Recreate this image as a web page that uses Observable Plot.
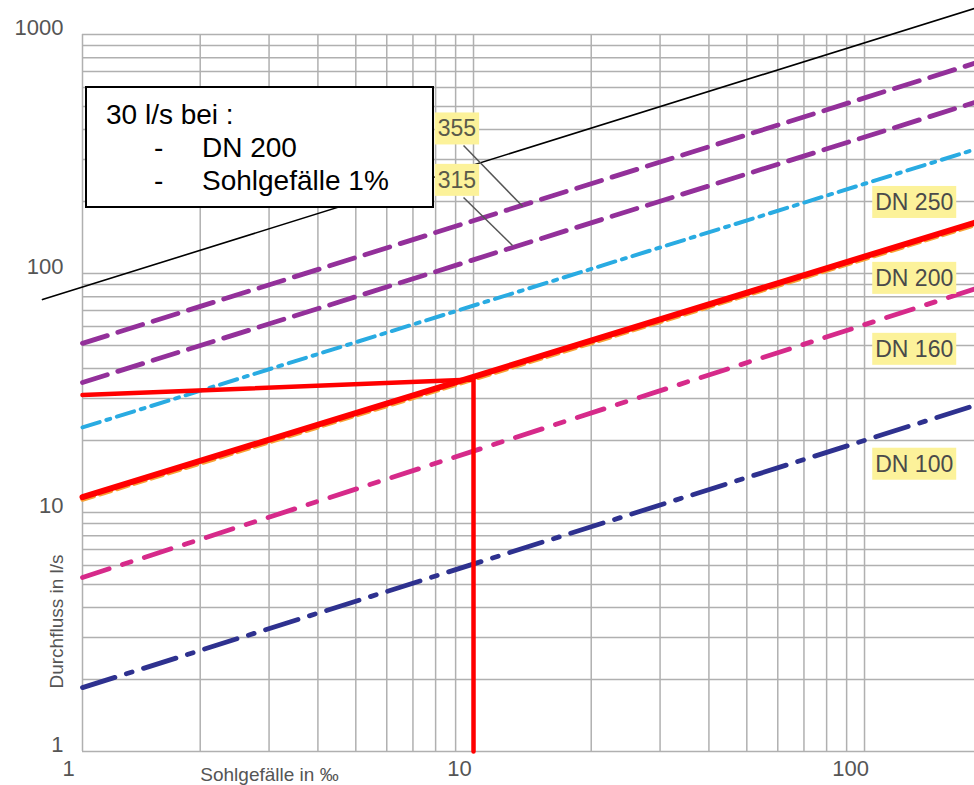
<!DOCTYPE html>
<html>
<head>
<meta charset="utf-8">
<script src="https://cdn.jsdelivr.net/npm/d3@7"></script>
<script src="https://cdn.jsdelivr.net/npm/@observablehq/plot@0.6"></script>
<style>
  html, body { margin: 0; padding: 0; background: #fff; }
  #chart { position: relative; width: 974px; height: 785px; }
</style>
</head>
<body>
<div id="chart"></div>
<script>
// ---- data ----
const xEnds = [1, 191];                 // Sohlgefälle in ‰ at the line ends
const dn355 = [51, 757];                // Durchfluss l/s
const dn315 = [35, 519];
const dn250 = [22.7, 330];
const dn200 = [11.6, 163];
const dn200base = [11.3, 159];
const dn160 = [5.35, 86];
const dn100 = [1.85, 28];
const refX = [0.79, 191];               // thin black reference line
const refY = [77.8, 1285];
const guideX = [1, 10, 10];             // red reading guide
const guideY = [31, 36, 1];

const xTicks = [1, 10, 100];
const yTicks = [1, 10, 100, 1000];
const xGrid = [1,2,3,4,5,6,7,8,9,10,20,30,40,50,60,70,80,90,100];
const yGrid = [1,2,3,4,5,6,7,8,9,10,20,30,40,50,60,70,80,90,100,200,300,400,500,600,700,800,900,1000];

const dnLabels = ["DN 250", "DN 200", "DN 160", "DN 100"];
const dnLabelX = [134, 134, 134, 134];
const dnLabelY = [198, 95.3, 48.1, 15.9];
const smallLabels = ["355", "315"];
const smallLabelX = [9.07, 9.07];
const smallLabelY = [402, 245];
const leaderX1 = [9.43, 9.43], leaderY1 = [343, 208];
const leaderX2 = [13.35, 12.58], leaderY2 = [191, 131];

// ---- build tables ----
const pts = (xs, ys) => xs.map((x, i) => ({x, y: ys[i]}));
const dnTable = dnLabels.map((t, i) => ({t, x: dnLabelX[i], y: dnLabelY[i]}));
const smallTable = smallLabels.map((t, i) => ({t, x: smallLabelX[i], y: smallLabelY[i]}));
const leaders = leaderX1.map((x, i) => ({x1: x, y1: leaderY1[i], x2: leaderX2[i], y2: leaderY2[i]}));

const font = "'Liberation Sans', Arial, Helvetica, sans-serif";
const gridStyle = {stroke: "#b0b0b0", strokeOpacity: 1, strokeWidth: 1.5};

const chart = Plot.plot({
  width: 974,
  height: 785,
  marginLeft: 82,
  marginRight: 0,
  marginTop: 34,
  marginBottom: 34,
  x: {type: "log", domain: [1, 191.1], axis: null},
  y: {type: "log", domain: [1, 1000], axis: null},
  style: {fontFamily: font, background: "white", overflow: "visible"},
  marks: [
    Plot.gridX(xGrid, gridStyle),
    Plot.gridY(yGrid, gridStyle),
    // tick labels
    Plot.text(yTicks, {y: d => d, frameAnchor: "left", dx: -19, dy: -7, textAnchor: "end",
      text: d => String(d), fontSize: 22, fill: "#555"}),
    Plot.text(xTicks, {x: d => d, frameAnchor: "bottom", dx: -14, dy: 24,
      text: d => String(d), fontSize: 22, fill: "#555"}),
    // axis titles
    Plot.text(["Sohlgefälle in ‰"], {frameAnchor: "bottom-left", dx: 187, dy: 23,
      textAnchor: "middle", lineAnchor: "middle", fontSize: 19, fill: "#555"}),
    Plot.text(["Durchfluss in l/s"], {frameAnchor: "bottom-left", dx: -26, dy: -130, rotate: -90,
      textAnchor: "middle", lineAnchor: "middle", fontSize: 19, fill: "#555"}),
    // reference line
    Plot.line(pts(refX, refY), {x: "x", y: "y", stroke: "#000", strokeWidth: 1.6}),
    // pipe lines
    Plot.line(pts(xEnds, dn355), {x: "x", y: "y", stroke: "#93309a", strokeWidth: 4.8, strokeDasharray: "26,11"}),
    Plot.line(pts(xEnds, dn315), {x: "x", y: "y", stroke: "#93309a", strokeWidth: 4.8, strokeDasharray: "26,11"}),
    Plot.line(pts(xEnds, dn250), {x: "x", y: "y", stroke: "#29abe2", strokeWidth: 4, strokeDasharray: "18,7,4,7"}),
    Plot.line(pts(xEnds, dn200base), {x: "x", y: "y", stroke: "#f7a336", strokeWidth: 4, strokeDasharray: "12,6"}),
    Plot.line(pts(xEnds, dn160), {x: "x", y: "y", stroke: "#d62a8a", strokeWidth: 4.8, strokeDasharray: "28,14,9,14"}),
    Plot.line(pts(xEnds, dn100), {x: "x", y: "y", stroke: "#2e318f", strokeWidth: 4.8, strokeDasharray: "34,12,6,12"}),
    Plot.line(pts(xEnds, dn200), {x: "x", y: "y", stroke: "#ff0000", strokeWidth: 6}),
    Plot.line(pts(guideX, guideY), {x: "x", y: "y", stroke: "#ff0000", strokeWidth: 4.5}),
    // leader lines
    Plot.link(leaders, {x1: "x1", y1: "y1", x2: "x2", y2: "y2", stroke: "#555", strokeWidth: 1.5}),
    // labels
    Plot.text(dnTable, {x: "x", y: "y", text: "t", fontSize: 23, fill: "#4a4a4a", lineAnchor: "middle"}),
    Plot.text(smallTable, {x: "x", y: "y", text: "t", fontSize: 23, fill: "#5a5a4a", lineAnchor: "middle"})
  ]
});

document.getElementById("chart").appendChild(chart);

// yellow backgrounds behind the pipe labels
const labelSet = new Set([...dnLabels, ...smallLabels]);
d3.select(chart).selectAll("text").each(function () {
  if (!labelSet.has(this.textContent)) return;
  const b = this.getBBox();
  const padX = 3;
  const padY = 3;
  const r = document.createElementNS("http://www.w3.org/2000/svg", "rect");
  r.setAttribute("x", b.x - padX);
  r.setAttribute("y", b.y - padY);
  r.setAttribute("width", b.width + 2 * padX);
  r.setAttribute("height", b.height + 2 * padY);
  r.setAttribute("fill", "#fcf29a");
  const tf = this.getAttribute("transform");
  if (tf) r.setAttribute("transform", tf);
  this.parentNode.insertBefore(r, this);
});

// annotation box
const ann = d3.select(chart).append("g")
  .attr("font-family", font).attr("fill", "#000")
  .attr("text-anchor", "start").attr("font-size", 28);
ann.append("rect").attr("x", 86).attr("y", 87).attr("width", 347).attr("height", 120)
  .attr("fill", "#fff").attr("stroke", "#000").attr("stroke-width", 2);
const annLines = [
  {x: 106, y: 124, t: "30 l/s bei :"},
  {x: 154, y: 157, t: "-"},
  {x: 202, y: 157, t: "DN 200"},
  {x: 154, y: 190, t: "-"},
  {x: 202, y: 190, t: "Sohlgefälle 1%"}
];
ann.selectAll("text.ann").data(annLines).join("text")
  .attr("class", "ann")
  .attr("x", d => d.x).attr("y", d => d.y)
  .attr("text-anchor", "start").attr("font-size", 28)
  .text(d => d.t);
</script>
</body>
</html>
